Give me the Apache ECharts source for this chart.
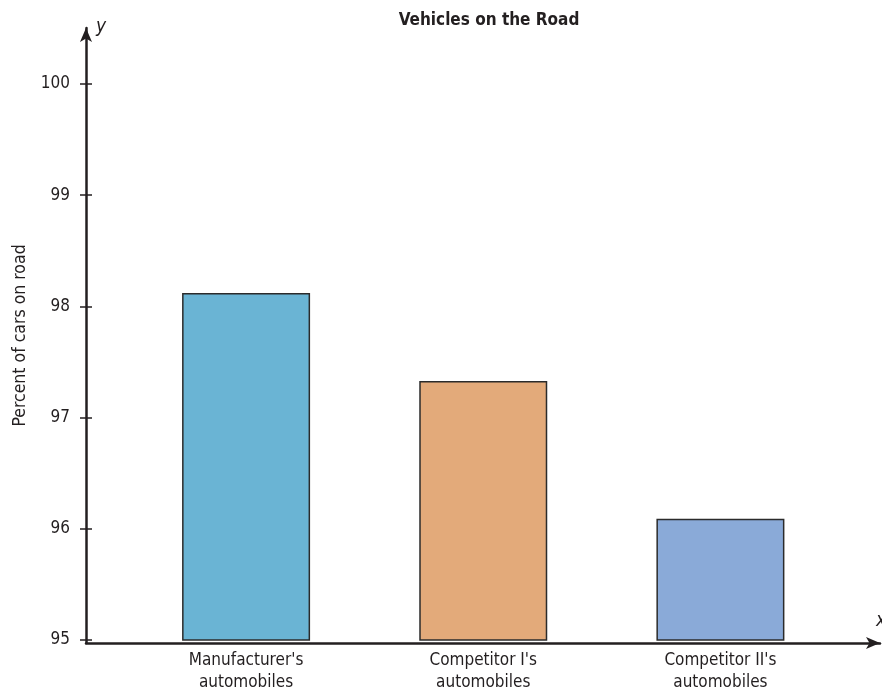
<!DOCTYPE html>
<html>
<head>
<meta charset="utf-8">
<script src="https://cdn.jsdelivr.net/npm/echarts@6/dist/echarts.min.js"></script>
<style>
  html, body { margin: 0; padding: 0; background: #fff; }
  #chart { width: 882px; height: 694px; }
</style>
</head>
<body>
<div id="chart"></div>
<script>
let categories = ["Manufacturer's\nautomobiles", "Competitor I's\nautomobiles", "Competitor II's\nautomobiles"];
let percentOnRoad = [98.12, 97.33, 96.09];
let barColors = ['#6ab4d4', '#e3aa7a', '#8aaad8'];

let fnt = '"Liberation Sans Narrow", "DejaVu Sans Condensed", "Liberation Sans", sans-serif';
let ink = '#231f20';

let chart = echarts.init(document.getElementById('chart'));
chart.setOption({
  animation: false,
  title: {
    text: 'Vehicles on the Road',
    left: 484,
    textAlign: 'center',
    top: 7,
    textStyle: { fontFamily: fnt, fontSize: 17, fontWeight: 'bold', color: ink }
  },
  grid: [
    // axis frame with arrows
    { left: 86, right: 2, top: 28, bottom: 51 },
    // bars
    { left: 127.5, right: 43, top: 84, bottom: 51 }
  ],
  xAxis: [{
    gridIndex: 0,
    type: 'value',
    min: 0,
    max: 1,
    axisLine: { show: true, symbol: ['none', 'arrow'], symbolSize: [9, 14], lineStyle: { color: ink, width: 2.5 } },
    axisTick: { show: false },
    axisLabel: { show: false },
    splitLine: { show: false }
  }, {
    gridIndex: 1,
    type: 'category',
    data: categories,
    axisLine: { show: false },
    axisTick: { show: false },
    axisLabel: { fontFamily: fnt, fontSize: 17, color: ink, margin: 10, lineHeight: 22 }
  }],
  yAxis: [{
    gridIndex: 0,
    type: 'value',
    position: 'left',
    min: 95,
    max: 100.5,
    axisLine: { show: true, symbol: ['none', 'arrow'], symbolSize: [9, 14], lineStyle: { color: ink, width: 2.5 } },
    axisTick: { show: false },
    axisLabel: { show: false },
    splitLine: { show: false },
    name: 'Percent of cars on road',
    nameLocation: 'middle',
    nameRotate: 90,
    nameGap: 57,
    nameTextStyle: { fontFamily: fnt, fontSize: 17.5, color: ink }
  }, {
    gridIndex: 1,
    type: 'value',
    position: 'left',
    min: 95,
    max: 100,
    interval: 1,
    offset: 41.5,
    axisLine: { show: false },
    axisTick: { show: true, inside: false, length: 6, lineStyle: { color: ink, width: 1.5 } },
    axisLabel: { fontFamily: fnt, fontSize: 17, color: ink, margin: 16 },
    splitLine: { show: false }
  }, {
    gridIndex: 1,
    type: 'value',
    position: 'left',
    min: 95,
    max: 100,
    interval: 1,
    offset: 41.5,
    axisLine: { show: false },
    axisTick: { show: true, inside: true, length: 6, lineStyle: { color: ink, width: 1.5 } },
    axisLabel: { show: false },
    splitLine: { show: false }
  }],
  graphic: [
    { type: 'text', left: 96, top: 18, style: { text: 'y', fontFamily: fnt, fontSize: 19, fontStyle: 'italic', fill: ink } },
    { type: 'text', left: 876, top: 612, style: { text: 'x', fontFamily: fnt, fontSize: 19, fontStyle: 'italic', fill: ink } }
  ],
  series: [{
    type: 'bar',
    xAxisIndex: 1,
    yAxisIndex: 1,
    barWidth: 128,
    data: percentOnRoad.map((v, i) => ({
      value: v,
      itemStyle: { color: barColors[i], borderColor: '#2b2b2b', borderWidth: 1.5 }
    }))
  }]
});
</script>
</body>
</html>
